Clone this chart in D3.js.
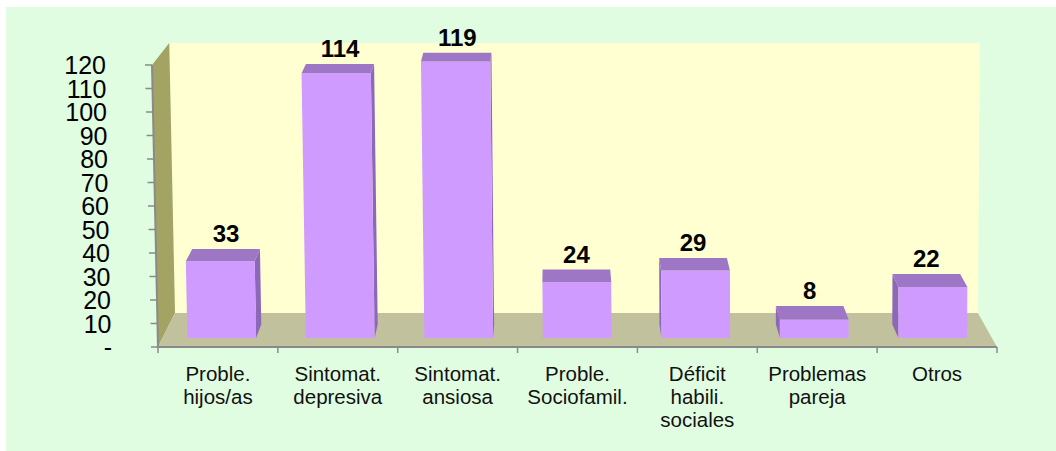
<!DOCTYPE html>
<html>
<head>
<meta charset="utf-8">
<script src="https://cdn.jsdelivr.net/npm/d3@7"></script>
<style>
    body { margin: 0; background: #ffffff; }
    text { font-family: "Liberation Sans", Arial, sans-serif; }
</style>
</head>
<body>
<svg id="chart" width="1056" height="451"></svg>
<script>
// data
var categories = [
    ["Proble.", "hijos/as"],
    ["Sintomat.", "depresiva"],
    ["Sintomat.", "ansiosa"],
    ["Proble.", "Sociofamil."],
    ["Déficit", "habili.", "sociales"],
    ["Problemas", "pareja"],
    ["Otros"]
];
var values = [33, 114, 119, 24, 29, 8, 22];
var yTicks = [0, 10, 20, 30, 40, 50, 60, 70, 80, 90, 100, 110, 120];
var yTickLabels = ["-", "10", "20", "30", "40", "50", "60", "70", "80", "90", "100", "110", "120"];

d3.select(window).on('load', init);

function init() {
    var svg = d3.select("#chart");

    // green chart area
    svg.append("rect")
        .attr("x", 6).attr("y", 7)
        .attr("width", 1050).attr("height", 444)
        .attr("fill", "#e1fde1");

    var n = categories.length;

    // front plane scales
    var yScale = d3.scaleLinear().domain([0, 120]).range([347, 65]);
    var uScale = d3.scaleLinear().domain([0, n]).range([0, 1]);
    var band = d3.scaleBand()
        .domain(d3.range(n))
        .range([0, n])
        .paddingInner(0.42)
        .paddingOuter(0.21);

    // depth goes towards a vanishing point (Excel 3d look)
    var vp = [553, -444];
    var shrink = d3.scaleLinear().domain([0, 1]).range([1, 0.957]);

    function project(u, v, z) {
        var yf = yScale(v);
        var left = 158 - (347 - yf) * 6 / 282;  // the front plane leans a bit
        var right = 997 + (347 - yf) * 2 / 282;
        var xf = left + uScale(u) * (right - left);
        var s = shrink(z);
        return [vp[0] + (xf - vp[0]) * s, vp[1] + (yf - vp[1]) * s];
    }

    function poly(pts, fill) {
        svg.append("polygon")
            .attr("points", pts.map(function(p) {
                var q = project(p[0], p[1], p[2]);
                return q[0] + "," + q[1];
            }).join(" "))
            .attr("fill", fill);
    }

    // walls and floor
    poly([[0, 0, 1], [n, 0, 1], [n, 120, 1], [0, 120, 1]], "#ffffd2");
    poly([[0, 0, 0], [0, 0, 1], [0, 120, 1], [0, 120, 0]], "#a3a363");
    poly([[0, 0, 0], [n, 0, 0], [n, 0, 1], [0, 0, 1]], "#c1c19e");

    // axes
    var axisColor = "#8a8a8a";
    var a0 = project(0, 0, 0), a1 = project(0, 120, 0), a2 = project(n, 0, 0);
    svg.append("line")
        .attr("x1", a0[0]).attr("y1", a0[1]).attr("x2", a1[0]).attr("y2", a1[1])
        .attr("stroke", axisColor).attr("stroke-width", 2);
    svg.append("line")
        .attr("x1", a0[0]).attr("y1", a0[1]).attr("x2", a2[0]).attr("y2", a2[1])
        .attr("stroke", axisColor).attr("stroke-width", 2);

    // y ticks and labels
    yTicks.forEach(function(t, i) {
        var p = project(0, t, 0);
        svg.append("line")
            .attr("x1", p[0] - 7).attr("y1", p[1]).attr("x2", p[0]).attr("y2", p[1])
            .attr("stroke", axisColor).attr("stroke-width", 1.5);
        svg.append("text")
            .attr("x", p[0] - 46).attr("y", p[1])
            .attr("dy", "0.36em")
            .attr("text-anchor", "end")
            .attr("font-size", "25px")
            .attr("fill", "#000")
            .text(yTickLabels[i]);
    });

    // x ticks
    d3.range(n + 1).forEach(function(k) {
        var p = project(k, 0, 0);
        svg.append("line")
            .attr("x1", p[0]).attr("y1", p[1]).attr("x2", p[0]).attr("y2", p[1] + 6)
            .attr("stroke", axisColor).attr("stroke-width", 1.5);
    });

    // category labels
    categories.forEach(function(lines, i) {
        var p = project(i + 0.5, 0, 0);
        var txt = svg.append("text")
            .attr("text-anchor", "middle")
            .attr("font-size", "20.5px")
            .attr("fill", "#111");
        lines.forEach(function(l, j) {
            txt.append("tspan")
                .attr("x", p[0])
                .attr("y", 381 + j * 23)
                .text(l);
        });
    });

    // bars
    var z0 = 0.265, z1 = 0.667;
    values.forEach(function(v, i) {
        var u0 = band(i), u1 = band(i) + band.bandwidth();

        // side face, whichever one is showing
        var f1 = project(u1, v, z0), b1 = project(u1, v, z1);
        if (b1[0] > f1[0]) {
            poly([[u1, 0, z0], [u1, 0, z1], [u1, v, z1], [u1, v, z0]], "#8c68b8");
        }
        var f0 = project(u0, v, z0), b0 = project(u0, v, z1);
        if (b0[0] < f0[0]) {
            poly([[u0, 0, z0], [u0, 0, z1], [u0, v, z1], [u0, v, z0]], "#8c68b8");
        }
        poly([[u0, 0, z0], [u1, 0, z0], [u1, v, z0], [u0, v, z0]], "#cf9bff");
        poly([[u0, v, z0], [u1, v, z0], [u1, v, z1], [u0, v, z1]], "#9e76c6");

        // value label
        var c = project(i + 0.5, v, z1);
        svg.append("text")
            .attr("x", c[0]).attr("y", c[1] - 7)
            .attr("text-anchor", "middle")
            .attr("font-size", "24px")
            .attr("font-weight", "bold")
            .attr("fill", "#000")
            .text(v);
    });
}
</script>
</body>
</html>
